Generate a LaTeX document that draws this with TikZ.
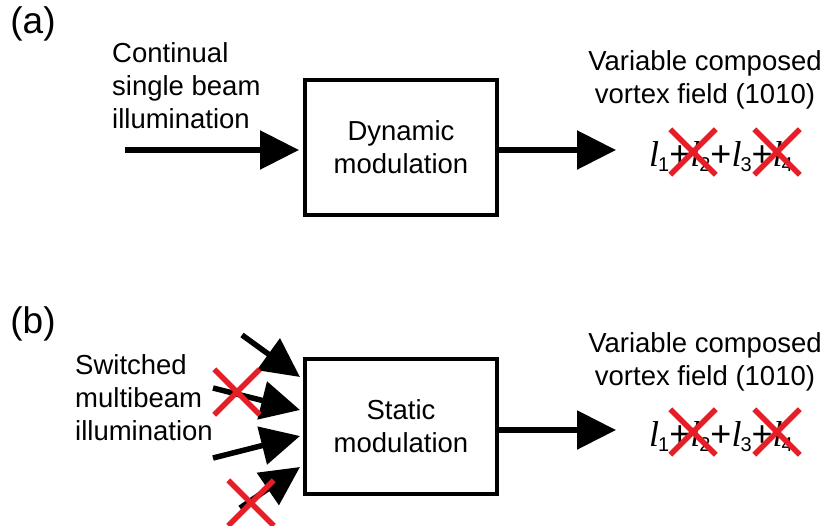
\documentclass[tikz,border=0pt]{standalone}
\usepackage{fontspec}
\setmainfont{Liberation Sans}
\newfontfamily\formfont{Liberation Serif}
\usetikzlibrary{arrows.meta,shapes.misc}

\newcommand{\lterm}[1]{{\formfont\itshape l}\kern-1pt\raisebox{-0.3ex}{\fontsize{20}{20}\selectfont #1}}

\tikzset{
    txt/.style={font=\fontsize{27.5}{33}\selectfont, inner sep=0pt, align=left},
    beam/.style={line width=5.5pt, -{Triangle[length=39pt,width=38pt]}},
    modbox/.style={draw, line width=4pt, minimum width=192pt, minimum height=135pt, align=center, font=\fontsize{27.5}{33}\selectfont},
    off/.style={cross out, draw={rgb,255:red,230;green,30;blue,40}, line width=5.5pt, minimum size=40pt, inner sep=0pt},
    form/.style={font=\fontsize{36}{36}\selectfont, inner sep=0pt}
}

\begin{document}
\begin{tikzpicture}[x=1pt, y=-1pt]

    \useasboundingbox (0,0) rectangle (829,525);

    % (a) dynamic modulation
    \node[txt, font=\fontsize{37}{37}\selectfont] (lblA) at (33,24) {(a)};
    \node[txt, anchor=west] (illumA) at (112,86) {Continual\\single beam\\illumination};
    \node[modbox] (boxA) at (401,147.5) {Dynamic\\modulation};
    \coordinate (inA) at (125,150);
    \coordinate (tipA) at (616,150);
    \draw[beam] (inA) -- (inA -| boxA.west) [shorten >=4pt];
    \draw[beam] (boxA.east |- tipA) -- (tipA);

    \node[txt, align=center] (fieldA) at (705,80) {Variable composed\\vortex field (1010)};
    \node[form, anchor=base] (sumA) at (721,166) {\lterm{1}+\lterm{2}+\lterm{3}+\lterm{4}};
    \node[off] (offA2) at (693,152) {};
    \node[off] (offA4) at (777,152) {};

    % (b) static modulation
    \node[txt, font=\fontsize{37}{37}\selectfont] (lblB) at (33,324) {(b)};
    \node[txt, anchor=west] (illumB) at (75,398) {Switched\\multibeam\\illumination};
    \node[modbox] (boxB) at (401,426) {Static\\modulation};
    \coordinate (inB1) at (242,335);
    \coordinate (inB2) at (213,388);
    \coordinate (inB3) at (213,458);
    \coordinate (inB4) at (240,508);
    \coordinate (tipB1) at (300,377);
    \coordinate (tipB2) at (300,410);
    \coordinate (tipB3) at (300,436);
    \coordinate (tipB4) at (300,467);
    \foreach \i in {1,...,4}
        \draw[beam] (inB\i) -- (tipB\i);
    \node[off] (offB2) at (237,392) {};
    \node[off] (offB4) at (251,503) {};
    \coordinate (tipB) at (616,430);
    \draw[beam] (boxB.east |- tipB) -- (tipB);

    \node[txt, align=center] (fieldB) at (705,362) {Variable composed\\vortex field (1010)};
    \node[form, anchor=base] (sumB) at (721,446) {\lterm{1}+\lterm{2}+\lterm{3}+\lterm{4}};
    \node[off] (offB6) at (693,432) {};
    \node[off] (offB8) at (777,432) {};

\end{tikzpicture}
\end{document}
